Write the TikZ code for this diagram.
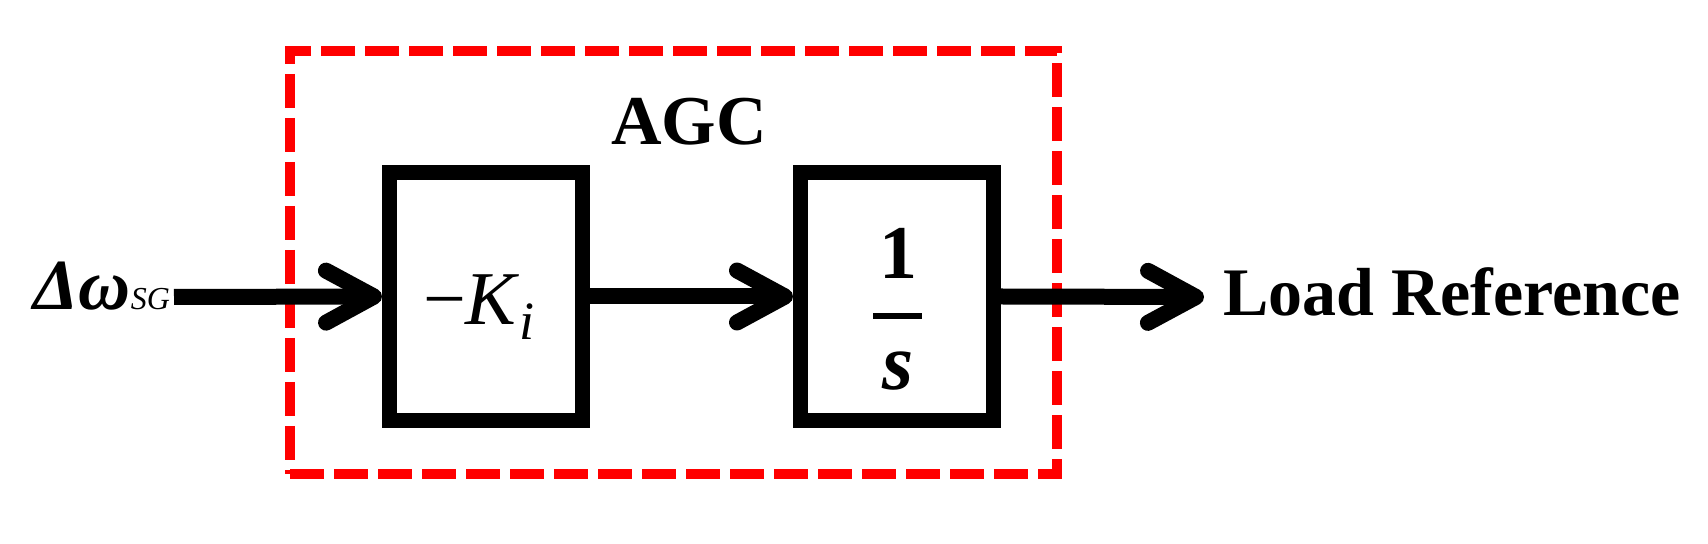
\documentclass[tikz,border=0pt]{standalone}
\usepackage{fontspec}
\setmainfont{Liberation Serif}
\usetikzlibrary{arrows.meta}
\definecolor{agcred}{RGB}{255,0,0}
\begin{document}
\begin{tikzpicture}[x=0.5pt,y=-0.5pt,
  blk/.style={draw, line width=7.5pt, minimum width=96.5pt, minimum height=124pt, inner sep=0pt},
  sig/.style={line width=8pt, -{Straight Barb[length=24pt,width=26pt,line cap=round,line join=round]}},
  grp/.style={draw=agcred, line width=5.25pt, dash pattern=on 17pt off 5pt},
  lbl/.style={inner sep=0pt, outer sep=0pt}]
\useasboundingbox (0,0) rectangle (1708,544);
% AGC group
\node[grp, minimum width=383.5pt, minimum height=211.5pt, inner sep=0pt] (agcbox) at (673.5,262.5) {};
\node[lbl, anchor=base, font=\fontsize{35}{40}\selectfont\bfseries] (agc) at (689,145) {AGC};
% blocks
\node[blk] (b1) at (486,296.5) {};
\node[blk] (b2) at (897,296.5) {};
\node[lbl, anchor=base, font=\fontsize{38}{40}\selectfont] (ki) at (479,325)
  {−\textit{K}\raisebox{-7.5pt}{\fontsize{27}{30}\selectfont\textit{i}}};
\node[lbl, anchor=base, font=\fontsize{38}{40}\selectfont\bfseries] (num) at (898,279) {1};
\node[lbl, anchor=base, font=\fontsize{40}{40}\selectfont\bfseries\itshape] (den) at (898,390) {s};
\coordinate (barl) at (873,316);
\coordinate (barr) at (922,316);
\draw[line width=3pt] (barl) -- (barr);
% input / output
\node[lbl, anchor=base east] (inp) at (170,310)
  {{\fontsize{36}{40}\selectfont\bfseries\itshape Δω}{\fontsize{16}{20}\selectfont\itshape SG}};
\node[lbl, anchor=base west, font=\fontsize{34}{40}\selectfont\bfseries] (out) at (1223,316) {Load Reference};
\coordinate (start) at (174,297);
\coordinate (end) at (1204,297);
% connectors
\draw[sig] (start) -- (b1.west);
\draw[sig] (b1.east) -- (b2.west);
\draw[sig] (b2.east) -- (end);
\end{tikzpicture}
\end{document}
